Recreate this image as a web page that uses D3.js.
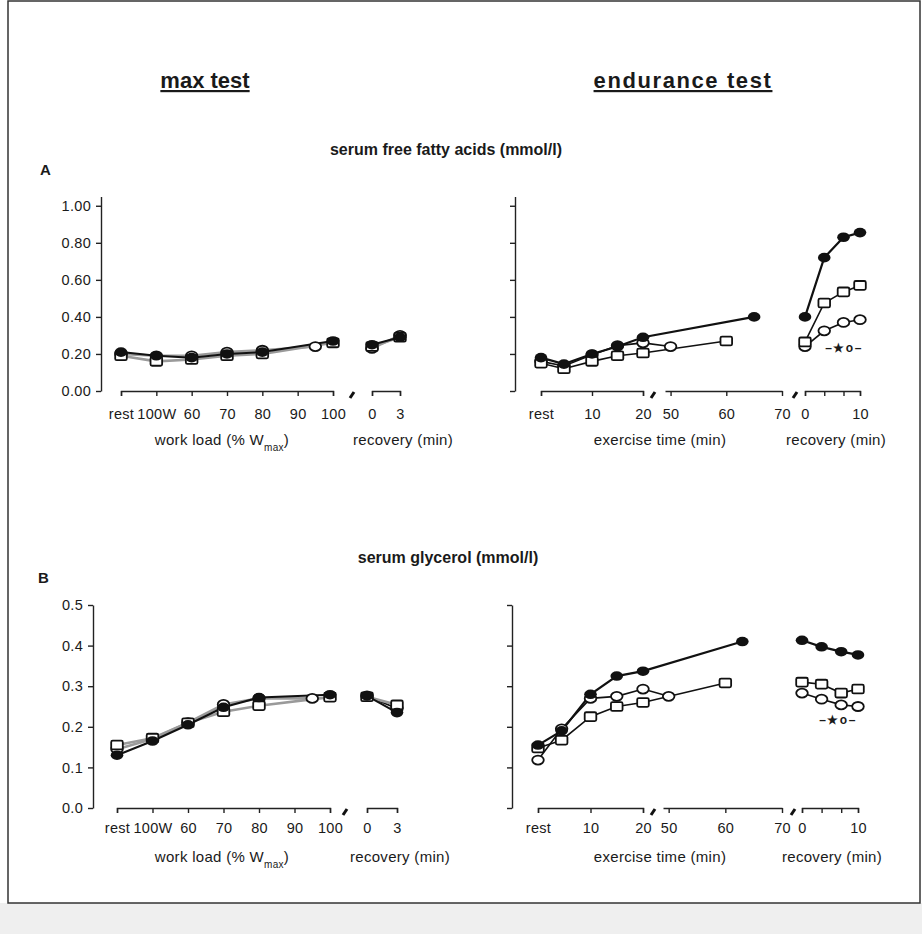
<!DOCTYPE html>
<html>
<head>
<meta charset="utf-8">
<script src="https://cdn.jsdelivr.net/npm/d3@7"></script>
<style>
  body { margin: 0; background: #fff; }
  text { font-family: "Liberation Sans", Arial, sans-serif; fill: #1a1a1a; }
  .tick text { font-size: 14.5px; letter-spacing: 0.3px; }
  .axis path, .axis line { stroke: #222; stroke-width: 1.4; }
</style>
</head>
<body>
<script>
// ---- ticks ----
var maxTicks = [40, 50, 60, 70, 80, 90, 100];
var maxTickLabels = ["rest", "100W", "60", "70", "80", "90", "100"];
var maxRecTicks = [0, 3];
var endTicks1 = [0, 10, 20];
var endTickLabels1 = ["rest", "10", "20"];
var endTicks2 = [50, 60, 70];
var endRecTicks = [0, 3.5, 7, 10];
var endRecLabels = ["0", "", "", "10"];
var ffaTicks = [0, 0.2, 0.4, 0.6, 0.8, 1.0];
var glyTicks = [0, 0.1, 0.2, 0.3, 0.4, 0.5];

// ---- sample times / loads ----
var maxLoad = [40, 50, 60, 70, 80, 100];      // 40 = rest, 50 = 100W
var maxLoadCircle = [40, 50, 60, 70, 80, 95];
var maxRec = [0, 3];
var endTimeCircle = [0, 4.5, 10, 15, 20, 50];
var endTimeSquare = [0, 4.5, 10, 15, 20, 60];
var ffaEndTimeFilled = [0, 4.5, 10, 15, 20, 65];
var glyEndTimeFilled = [0, 4.5, 10, 15, 20, 63];
var endRec = [0, 3.5, 7, 10];

// ---- serum free fatty acids (mmol/l) ----
var ffaMaxFilled = [0.21, 0.19, 0.18, 0.20, 0.21, 0.27];
var ffaMaxCircle = [0.20, 0.19, 0.19, 0.21, 0.22, 0.24];
var ffaMaxSquare = [0.19, 0.16, 0.17, 0.19, 0.20, 0.26];
var ffaMaxRecFilled = [0.25, 0.29];
var ffaMaxRecCircle = [0.23, 0.30];
var ffaMaxRecSquare = [0.24, 0.29];
var ffaEndFilled = [0.18, 0.145, 0.20, 0.24, 0.29, 0.40];
var ffaEndCircle = [0.16, 0.135, 0.195, 0.245, 0.26, 0.24];
var ffaEndSquare = [0.15, 0.12, 0.16, 0.19, 0.205, 0.27];
var ffaEndRecFilled = [0.40, 0.72, 0.83, 0.855];
var ffaEndRecCircle = [0.24, 0.325, 0.37, 0.385];
var ffaEndRecSquare = [0.265, 0.475, 0.535, 0.57];

// ---- serum glycerol (mmol/l) ----
var glyMaxFilled = [0.13, 0.165, 0.205, 0.248, 0.272, 0.279];
var glyMaxCircle = [0.145, 0.17, 0.21, 0.255, 0.27, 0.27];
var glyMaxSquare = [0.155, 0.172, 0.21, 0.237, 0.252, 0.273];
var glyMaxRecFilled = [0.276, 0.235];
var glyMaxRecCircle = [0.276, 0.245];
var glyMaxRecSquare = [0.274, 0.254];
var glyEndFilled = [0.155, 0.19, 0.28, 0.325, 0.337, 0.41];
var glyEndCircle = [0.118, 0.195, 0.27, 0.275, 0.293, 0.275];
var glyEndSquare = [0.148, 0.167, 0.225, 0.25, 0.26, 0.308];
var glyEndRecFilled = [0.413, 0.397, 0.385, 0.377];
var glyEndRecCircle = [0.283, 0.268, 0.254, 0.25];
var glyEndRecSquare = [0.31, 0.305, 0.283, 0.293];

var W = 922, H = 934;
var svg = d3.select("body").append("svg").attr("width", W).attr("height", H);

// scan background + frame
svg.append("rect").attr("x", 0).attr("y", 903).attr("width", W).attr("height", H - 903).attr("fill", "#efefef");
svg.append("rect").attr("x", 8).attr("y", 1).attr("width", 912).attr("height", 902)
  .attr("fill", "#fff").attr("stroke", "#333").attr("stroke-width", 1.5);

// headings
svg.append("text").attr("x", 205).attr("y", 88).attr("text-anchor", "middle")
  .style("font-size", "22px").style("font-weight", "bold").style("text-decoration", "underline")
  .text("max test");
svg.append("text").attr("x", 683).attr("y", 88).attr("text-anchor", "middle")
  .style("font-size", "22px").style("font-weight", "bold").style("letter-spacing", "1.6px")
  .style("text-decoration", "underline").text("endurance test");
svg.append("text").attr("x", 446).attr("y", 155).attr("text-anchor", "middle")
  .style("font-size", "16px").style("font-weight", "bold").text("serum free fatty acids (mmol/l)");
svg.append("text").attr("x", 40).attr("y", 175).style("font-size", "15px").style("font-weight", "bold").text("A");
svg.append("text").attr("x", 448).attr("y", 563).attr("text-anchor", "middle")
  .style("font-size", "16px").style("font-weight", "bold").text("serum glycerol (mmol/l)");
svg.append("text").attr("x", 38).attr("y", 583).style("font-size", "15px").style("font-weight", "bold").text("B");

function pts(xs, vs) { return xs.map(function (x, i) { return { x: x, v: vs[i] }; }); }

function yAxis(scale, x, ticks, fmt, labelled) {
  var ax = d3.axisLeft(scale).tickValues(ticks).tickSizeInner(5).tickSizeOuter(0).tickPadding(5)
    .tickFormat(labelled ? d3.format(fmt) : "");
  svg.append("g").attr("class", "axis").attr("transform", "translate(" + x + ",0)").call(ax);
}

function xAxis(scale, y, ticks, labels, outer, pad) {
  var ax = d3.axisBottom(scale).tickValues(ticks).tickSizeInner(5).tickSizeOuter(outer).tickPadding(pad)
    .tickFormat(function (d, i) { return labels ? labels[i] : d; });
  svg.append("g").attr("class", "axis").attr("transform", "translate(0," + y + ")").call(ax);
}

function breakMark(x, y) {
  svg.append("line").attr("x1", x - 2).attr("y1", y + 7).attr("x2", x + 2).attr("y2", y + 1)
    .attr("stroke", "#111").attr("stroke-width", 3);
}

function series(xs, ys, data, kind, lineColor, lineWidth) {
  var line = d3.line().x(function (d) { return xs(d.x); }).y(function (d) { return ys(d.v); });
  svg.append("path").datum(data).attr("d", line).attr("fill", "none")
    .attr("stroke", lineColor).attr("stroke-width", lineWidth);
  return function () {
    var g = svg.append("g");
    data.forEach(function (d) {
      var cx = xs(d.x), cy = ys(d.v);
      if (kind === "filled") {
        g.append("ellipse").attr("cx", cx).attr("cy", cy).attr("rx", 6.3).attr("ry", 4.8).attr("fill", "#111");
      } else if (kind === "circle") {
        g.append("ellipse").attr("cx", cx).attr("cy", cy).attr("rx", 5.8).attr("ry", 4.5)
          .attr("fill", "#fff").attr("stroke", "#111").attr("stroke-width", 1.8);
      } else {
        g.append("rect").attr("x", cx - 5.8).attr("y", cy - 4.4).attr("width", 11.6).attr("height", 8.8).attr("rx", 1.5)
          .attr("fill", "#fff").attr("stroke", "#111").attr("stroke-width", 1.8);
      }
    });
  };
}

function drawSeries(list) {
  var marks = list.map(function (s) { return series.apply(null, s); });
  marks.forEach(function (m) { m(); });
}

function axisTitle(x, y, txt, sub, tail) {
  var t = svg.append("text").attr("x", x).attr("y", y).attr("text-anchor", "middle")
    .style("font-size", "15px").style("letter-spacing", "0.3px").text(txt);
  if (sub) {
    t.append("tspan").attr("dy", 6).style("font-size", "10px").text(sub);
    t.append("tspan").attr("dy", -6).text(tail);
  }
}

function note(x, y) {
  svg.append("text").attr("x", x).attr("y", y).attr("text-anchor", "middle")
    .style("font-size", "12px").style("font-weight", "bold").style("letter-spacing", "1.5px").text("–★o–");
}

// ================= panel A =================
var yA = d3.scaleLinear().domain([0, 1.05]).range([391, 196.5]);
// max test
var xMaxA = d3.scaleLinear().domain([40, 100]).range([121, 333]);
var xMaxRecA = d3.scaleLinear().domain([0, 3]).range([372, 400]);
yAxis(yA, 101, ffaTicks, ".2f", true);
xAxis(xMaxA, 391, maxTicks, maxTickLabels, 5, 13);
xAxis(xMaxRecA, 391, maxRecTicks, null, 5, 13);
breakMark(352, 391);
drawSeries([
  [xMaxA, yA, pts(maxLoadCircle, ffaMaxCircle), "circle", "#9a9a9a", 2.6],
  [xMaxA, yA, pts(maxLoad, ffaMaxSquare), "square", "#9a9a9a", 2.6],
  [xMaxA, yA, pts(maxLoad, ffaMaxFilled), "filled", "#111", 2],
  [xMaxRecA, yA, pts(maxRec, ffaMaxRecCircle), "circle", "#9a9a9a", 2.6],
  [xMaxRecA, yA, pts(maxRec, ffaMaxRecSquare), "square", "#9a9a9a", 2.6],
  [xMaxRecA, yA, pts(maxRec, ffaMaxRecFilled), "filled", "#111", 2]
]);
axisTitle(222, 445, "work load (% W", "max", ")");
axisTitle(403, 445, "recovery (min)");

// endurance test
var xEndA = d3.scaleLinear().domain([0, 20, 49, 70]).range([541, 643, 665, 782]);
var xEndRecA = d3.scaleLinear().domain([0, 10]).range([805, 860]);
yAxis(yA, 515, ffaTicks, ".2f", false);
xAxis(d3.scaleLinear().domain([0, 20]).range([541, 643]), 391, endTicks1, endTickLabels1, 5, 13);
xAxis(d3.scaleLinear().domain([49, 70]).range([665, 782]), 391, endTicks2, null, 0, 13);
xAxis(xEndRecA, 391, endRecTicks, endRecLabels, 5, 13);
breakMark(653, 391);
breakMark(795, 391);
drawSeries([
  [xEndA, yA, pts(endTimeCircle, ffaEndCircle), "circle", "#111", 1.6],
  [xEndA, yA, pts(endTimeSquare, ffaEndSquare), "square", "#111", 1.6],
  [xEndA, yA, pts(ffaEndTimeFilled, ffaEndFilled), "filled", "#111", 2.2],
  [xEndRecA, yA, pts(endRec, ffaEndRecCircle), "circle", "#111", 1.6],
  [xEndRecA, yA, pts(endRec, ffaEndRecSquare), "square", "#111", 1.6],
  [xEndRecA, yA, pts(endRec, ffaEndRecFilled), "filled", "#111", 2.2]
]);
note(844, 352);
axisTitle(660, 445, "exercise time (min)");
axisTitle(836, 445, "recovery (min)");

// ================= panel B =================
var yB = d3.scaleLinear().domain([0, 0.5]).range([808, 605]);
var xMaxB = d3.scaleLinear().domain([40, 100]).range([117, 330]);
var xMaxRecB = d3.scaleLinear().domain([0, 3]).range([367, 397]);
yAxis(yB, 93, glyTicks, ".1f", true);
xAxis(xMaxB, 808, maxTicks, maxTickLabels, 5, 10);
xAxis(xMaxRecB, 808, maxRecTicks, null, 5, 10);
breakMark(345, 808);
drawSeries([
  [xMaxB, yB, pts(maxLoadCircle, glyMaxCircle), "circle", "#9a9a9a", 2.6],
  [xMaxB, yB, pts(maxLoad, glyMaxSquare), "square", "#9a9a9a", 2.6],
  [xMaxB, yB, pts(maxLoad, glyMaxFilled), "filled", "#111", 2],
  [xMaxRecB, yB, pts(maxRec, glyMaxRecCircle), "circle", "#111", 1.8],
  [xMaxRecB, yB, pts(maxRec, glyMaxRecSquare), "square", "#9a9a9a", 2.6],
  [xMaxRecB, yB, pts(maxRec, glyMaxRecFilled), "filled", "#111", 2]
]);
axisTitle(222, 862, "work load (% W", "max", ")");
axisTitle(400, 862, "recovery (min)");

var xEndB = d3.scaleLinear().domain([0, 20, 49, 70]).range([538, 643, 663, 782]);
var xEndRecB = d3.scaleLinear().domain([0, 10]).range([802, 858]);
yAxis(yB, 512, glyTicks, ".1f", false);
xAxis(d3.scaleLinear().domain([0, 20]).range([538, 643]), 808, endTicks1, endTickLabels1, 5, 10);
xAxis(d3.scaleLinear().domain([49, 70]).range([663, 782]), 808, endTicks2, null, 0, 10);
xAxis(xEndRecB, 808, endRecTicks, endRecLabels, 5, 10);
breakMark(653, 808);
breakMark(793, 808);
drawSeries([
  [xEndB, yB, pts(endTimeCircle, glyEndCircle), "circle", "#111", 1.6],
  [xEndB, yB, pts(endTimeSquare, glyEndSquare), "square", "#111", 1.6],
  [xEndB, yB, pts(glyEndTimeFilled, glyEndFilled), "filled", "#111", 2.2],
  [xEndRecB, yB, pts(endRec, glyEndRecCircle), "circle", "#111", 1.6],
  [xEndRecB, yB, pts(endRec, glyEndRecSquare), "square", "#111", 1.6],
  [xEndRecB, yB, pts(endRec, glyEndRecFilled), "filled", "#111", 2.2]
]);
note(838, 724);
axisTitle(660, 862, "exercise time (min)");
axisTitle(832, 862, "recovery (min)");
</script>
</body>
</html>
